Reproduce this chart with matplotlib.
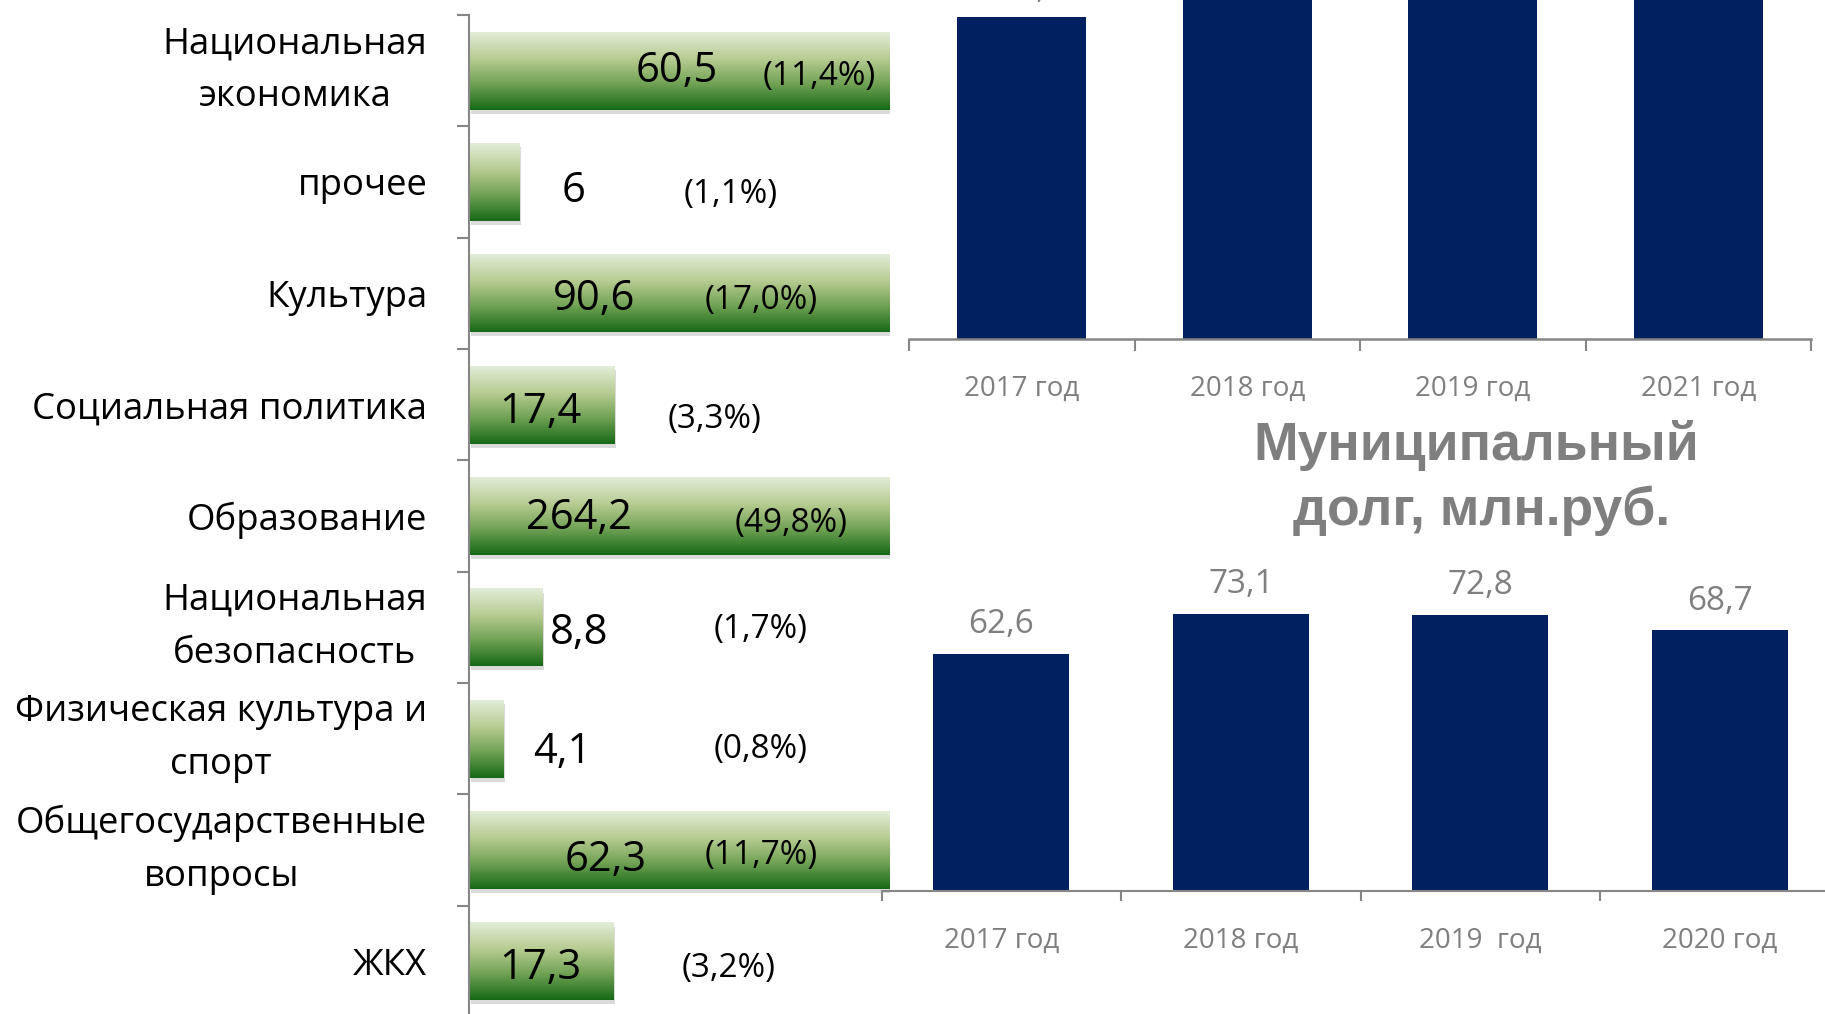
import numpy as np
import matplotlib
matplotlib.use('Agg')
import matplotlib.pyplot as plt
from matplotlib.colors import LinearSegmentedColormap
import matplotlib.patheffects as pe

# ---------------- data ----------------
categories = ['Национальная\nэкономика', 'прочее', 'Культура', 'Социальная политика',
              'Образование', 'Национальная\nбезопасность', 'Физическая культура и\nспорт',
              'Общегосударственные\nвопросы', 'ЖКХ']
values = [60.5, 6, 90.6, 17.4, 264.2, 8.8, 4.1, 62.3, 17.3]
value_labels = ['60,5', '6', '90,6', '17,4', '264,2', '8,8', '4,1', '62,3', '17,3']
pct_labels = ['(11,4%)', '(1,1%)', '(17,0%)', '(3,3%)', '(49,8%)', '(1,7%)', '(0,8%)',
              '(11,7%)', '(3,2%)']
# label anchor positions (data units) and small vertical offsets (category units)
val_x = [24.9, 12.5, 15.0, 8.56, 13.2, 13.2, 11.2, 16.4, 8.56]
val_dy = [0.004, 0.077, 0.05, 0.065, 0.017, 0.052, 0.118, 0.09, 0.063]
pct_x = [42.05, 31.4, 35.0, 29.4, 38.65, 35.0, 35.0, 35.0, 31.2]
pct_dy = [0.052, 0.11, 0.06, 0.13, 0.07, 0.02, 0.098, 0.05, 0.065]

rev_years = ['2017 год', '2018 год', '2019 год', '2021 год']
rev_values = [475.3, 531.8, 546.2, 528.4]

debt_years = ['2017 год', '2018 год', '2019  год', '2020 год']
debt_values = [62.6, 73.1, 72.8, 68.7]
debt_title = ['Муниципальный', 'долг, млн.руб.']

# ---------------- style ----------------
plt.rcParams['font.family'] = ['Open Sans', 'DejaVu Sans']
GRAY = '#7f7f7f'
AXGRAY = '#868686'
NAVY = '#002060'
green_cmap = LinearSegmentedColormap.from_list(
    'g', [(0.0, '#e3edd9'), (0.35, '#b6cb90'), (0.65, '#74a457'), (1.0, '#166916')])

W, H = 1825, 1014
fig = plt.figure(figsize=(W / 100, H / 100), dpi=100)

# ---------------- left: expenditure structure ----------------
ax1 = fig.add_axes([469 / W, 1 - 1017 / H, 421 / W, 1002 / H])
ax1.set_facecolor('none')
pos = np.arange(len(categories))
bars = ax1.barh(pos, values, height=0.70, facecolor='none', edgecolor='none', zorder=1)
grad = np.linspace(0, 1, 256).reshape(-1, 1)
for b in bars:
    b.set_path_effects([pe.SimplePatchShadow(offset=(1.5, -3), shadow_rgbFace='#7a7a7a',
                                             alpha=0.28), pe.Normal()])
    x, y, w, h = b.get_x(), b.get_y(), b.get_width(), b.get_height()
    ax1.imshow(grad, cmap=green_cmap, aspect='auto', extent=(x, x + w, y + h, y),
               origin='upper', zorder=2, interpolation='bilinear')
ax1.set_xlim(0, 50.5)
ax1.set_ylim(len(categories) - 0.5, -0.5)

for i in range(len(categories)):
    ax1.text(val_x[i], pos[i] + val_dy[i], value_labels[i], ha='center', va='center',
             fontsize=30, color='black', zorder=3)
    ax1.text(pct_x[i], pos[i] + pct_dy[i], pct_labels[i], ha='center', va='center',
             fontsize=24, color='black', zorder=3)

for s in ['top', 'right', 'bottom']:
    ax1.spines[s].set_visible(False)
ax1.spines['left'].set_color(AXGRAY)
ax1.spines['left'].set_linewidth(1.5)
ax1.set_xticks([])
ax1.set_yticks(np.arange(-0.5, len(categories), 1.0))
ax1.set_yticklabels([])
ax1.set_yticks(pos, labels=categories, minor=True)
ax1.tick_params(axis='y', which='major', direction='out', length=9, width=1.5, color=AXGRAY)
ax1.tick_params(axis='y', which='minor', length=0, pad=30, labelsize=26.3, labelcolor='black')
for lbl in ax1.get_yticklabels(minor=True):
    lbl.set_multialignment('center')
    lbl.set_linespacing(1.62)
    if '\n' in lbl.get_text():
        lbl.set_verticalalignment('center')

# ---------------- top right: (clipped) bar chart ----------------
ax2 = fig.add_axes([909 / W, 1 - 338.5 / H, 902 / W, 338.5 / H])
ax2.set_facecolor('none')
xp = np.arange(len(rev_years))
b2 = ax2.bar(xp, rev_values, width=0.572, color=NAVY, zorder=2)
ax2.bar_label(b2, labels=[f'{v:.1f}'.replace('.', ',') for v in rev_values], padding=8,
              fontsize=24, color=GRAY, clip_on=False)
ax2.set_xlim(-0.5, len(rev_years) - 0.5)
ax2.set_ylim(0, 500)
for s in ['top', 'right', 'left']:
    ax2.spines[s].set_visible(False)
ax2.spines['bottom'].set_color(AXGRAY)
ax2.spines['bottom'].set_linewidth(1.8)
ax2.set_yticks([])
ax2.set_xticks(np.arange(-0.5, len(rev_years), 1.0))
ax2.set_xticklabels([])
ax2.set_xticks(xp, labels=rev_years, minor=True)
ax2.tick_params(axis='x', which='major', direction='out', length=8.5, width=1.5, color=AXGRAY)
ax2.tick_params(axis='x', which='minor', length=0, pad=26, labelsize=20, labelcolor=GRAY)

# ---------------- bottom right: municipal debt ----------------
ax3 = fig.add_axes([881.7 / W, 1 - 890.7 / H, 958 / W, 303 / H])
ax3.set_facecolor('none')
xd = np.arange(len(debt_years))
b3 = ax3.bar(xd, debt_values, width=0.568, color=NAVY, zorder=2)
ax3.bar_label(b3, labels=[f'{v:.1f}'.replace('.', ',') for v in debt_values], padding=9,
              fontsize=24, color=GRAY)
ax3.set_xlim(-0.5, len(debt_years) - 0.5)
ax3.set_ylim(0, 80)
for s in ['top', 'right', 'left']:
    ax3.spines[s].set_visible(False)
ax3.spines['bottom'].set_color(AXGRAY)
ax3.spines['bottom'].set_linewidth(1.5)
ax3.set_yticks([])
ax3.set_xticks(np.arange(-0.5, len(debt_years), 1.0))
ax3.set_xticklabels([])
ax3.set_xticks(xd, labels=debt_years, minor=True)
ax3.tick_params(axis='x', which='major', direction='out', length=7.5, width=1.5, color=AXGRAY)
ax3.tick_params(axis='x', which='minor', length=0, pad=26, labelsize=20, labelcolor=GRAY)

fig.text(1476 / W, 1 - 460 / H, debt_title[0], ha='center', va='baseline', fontsize=38.5,
         fontweight='bold', color=GRAY, family=['Liberation Sans', 'DejaVu Sans'])
fig.text(1481.5 / W, 1 - 525 / H, debt_title[1], ha='center', va='baseline', fontsize=38.5,
         fontweight='bold', color=GRAY, family=['Liberation Sans', 'DejaVu Sans'])

fig.savefig('out.png', dpi=100)
